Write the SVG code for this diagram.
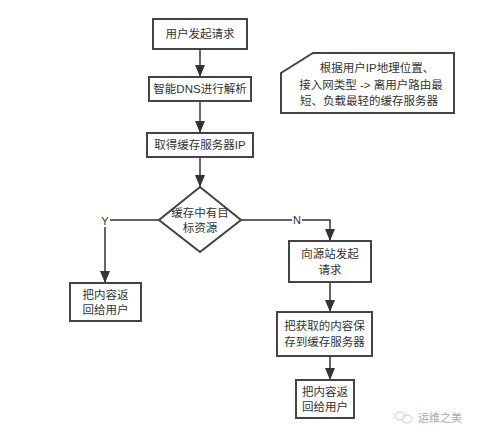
<svg xmlns="http://www.w3.org/2000/svg" width="480" height="436" viewBox="0 0 480 436">
<defs>
<marker id="arr" markerUnits="userSpaceOnUse" markerWidth="13" markerHeight="12" refX="12" refY="5" orient="auto">
<path d="M0,0 L12,5 L0,10 z" fill="#333"/>
</marker>
<style>
.box{fill:#fff;stroke:#444;stroke-width:2}
.t{font-family:"Liberation Sans","Noto Sans CJK SC",sans-serif;font-size:11.5px;fill:#333;text-anchor:middle;dominant-baseline:central}
.c{fill:none;stroke:#333;stroke-width:1.5}
.lbl{font-family:"Liberation Sans","Noto Sans CJK SC",sans-serif;font-size:11px;fill:#333;text-anchor:middle;dominant-baseline:central}
</style>
</defs>
<rect width="480" height="436" fill="#fff"/>
<g id="connectors">
<path class="c" d="M200,49 V77" marker-end="url(#arr)"/>
<path class="c" d="M200,101 V133" marker-end="url(#arr)"/>
<path class="c" d="M200,157 V187" marker-end="url(#arr)"/>
<path class="c" d="M159,220 H105 V283" marker-end="url(#arr)"/>
<path class="c" d="M241,220 H330 V241" marker-end="url(#arr)"/>
<path class="c" d="M330,282 V312" marker-end="url(#arr)"/>
<path class="c" d="M330,356 V380" marker-end="url(#arr)"/>
<rect x="100" y="213" width="10" height="14" fill="#fff"/>
<text class="lbl" x="105" y="221">Y</text>
<rect x="292" y="213" width="10" height="14" fill="#fff"/>
<text class="lbl" x="297" y="220">N</text>
</g>
<g id="n1">
<rect class="box" x="153" y="19" width="94" height="30"/>
<text class="t" x="200" y="34">用户发起请求</text>
</g>
<g id="n2">
<rect class="box" x="149" y="77" width="102" height="24"/>
<text class="t" x="200" y="89">智能DNS进行解析</text>
</g>
<g id="n3">
<rect class="box" x="147" y="133" width="106" height="24"/>
<text class="t" x="200" y="145">取得缓存服务器IP</text>
</g>
<g id="note">
<polygon class="box" points="313,53 454,53 454,113 281,113 281,73"/>
<text class="t" x="377" y="68">根据用户IP地理位置、</text>
<text class="t" x="371" y="85">接入网类型 -&gt; 离用户路由最</text>
<text class="t" x="369" y="101">短、负载最轻的缓存服务器</text>
</g>
<g id="decision">
<polygon class="box" points="200,187 241,220 200,252 159,220"/>
<text class="t" x="200" y="213">缓存中有目</text>
<text class="t" x="200" y="228">标资源</text>
</g>
<g id="n_yes">
<rect class="box" x="70" y="283" width="71" height="38"/>
<text class="t" x="105.5" y="295">把内容返</text>
<text class="t" x="105.5" y="310">回给用户</text>
</g>
<g id="n4">
<rect class="box" x="289" y="241" width="82" height="41"/>
<text class="t" x="330" y="254">向源站发起</text>
<text class="t" x="330" y="270">请求</text>
</g>
<g id="n5">
<rect class="box" x="277" y="312" width="95" height="44"/>
<text class="t" x="324.5" y="326">把获取的内容保</text>
<text class="t" x="324.5" y="342">存到缓存服务器</text>
</g>
<g id="n6">
<rect class="box" x="296" y="380" width="58" height="38"/>
<text class="t" x="325" y="392">把内容返</text>
<text class="t" x="325" y="407">回给用户</text>
</g>
<g id="watermark">
<ellipse cx="400" cy="416" rx="5" ry="4" fill="none" stroke="#ccc" stroke-width="1"/>
<ellipse cx="407" cy="419" rx="5" ry="4" fill="none" stroke="#ccc" stroke-width="1"/>
<text x="418" y="418" font-family="Liberation Sans,'Noto Sans CJK SC',sans-serif" font-size="11px" fill="#aaa" dominant-baseline="central">运维之美</text>
</g>
</svg>
